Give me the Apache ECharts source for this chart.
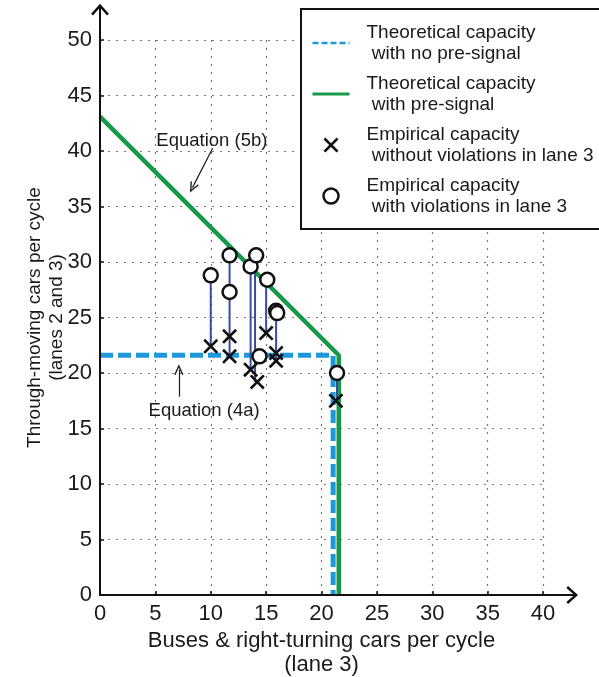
<!DOCTYPE html>
<html>
<head>
<meta charset="utf-8">
<script src="https://cdn.jsdelivr.net/npm/echarts@6/dist/echarts.min.js"></script>
<style>
  html, body { margin: 0; padding: 0; background: #fff; }
  #chart { width: 599px; height: 677px; }
</style>
</head>
<body>
<div id="chart"></div>
<script>
// theoretical capacity lines [buses & right-turning cars, through-moving cars]
const noSignalLine = [[0, 21.6], [21.05, 21.6], [21.05, 0]];
const preSignalLine = [[0, 43.1], [21.56, 21.6], [21.56, 0]];

// empirical capacity points
const noViolation = [[10, 22.4], [11.7, 23.3], [11.7, 21.5], [13.6, 20.3], [14.2, 19.2],
  [15.0, 23.6], [15.9, 21.8], [15.9, 21.1], [21.3, 17.5]];
const withViolation = [[10, 28.8], [11.7, 30.6], [11.7, 27.3], [13.6, 29.6], [14.1, 30.6],
  [14.4, 21.5], [15.1, 28.4], [15.9, 25.6], [16.0, 25.4], [21.4, 20.0]];
// [x, circle value, cross value]
const stems = [[10, 28.8, 22.4], [11.7, 30.6, 21.5], [13.6, 29.6, 20.3], [14.0, 30.6, 19.2],
  [15.0, 28.4, 23.6], [15.9, 25.6, 21.1], [21.4, 20.0, 17.5]];

const legendLabels = {
  noSignal: ['Theoretical capacity', ' with no pre-signal'],
  preSignal: ['Theoretical capacity', ' with pre-signal'],
  noViolation: ['Empirical capacity', ' without violations in lane 3'],
  withViolation: ['Empirical capacity', ' with violations in lane 3']
};
const notes = [
  { value: [10.1, 40.9], name: 'Equation (5b)' },
  { value: [9.4, 16.6], name: 'Equation (4a)' }
];

const font = 'Liberation Sans, Arial, sans-serif';
const ink = '#1a1a1a';
const blue = '#1e98dc';
const green = '#18994a';
const stemColor = '#3a4c9e';
const noFill = { color: 'rgba(0,0,0,0)', borderColor: 'rgba(0,0,0,0)', borderWidth: 0 };
const crossPath = 'path://M0,2.5 L2.5,0 L10,7.5 L17.5,0 L20,2.5 L12.5,10 L20,17.5 L17.5,20 L10,12.5 L2.5,20 L0,17.5 L7.5,10 Z';
const thinArrow = 'path://M0,9 L5,0 L10,9 L8.8,9.8 L5,3 L1.2,9.8 Z';

const chart = echarts.init(document.getElementById('chart'));

const axisCommon = {
  type: 'value',
  interval: 5,
  axisLine: { show: true, lineStyle: { color: '#111', width: 2 } },
  axisTick: { show: true, inside: true, length: 4, lineStyle: { color: '#111', width: 1.5 } },
  axisLabel: { color: ink, fontSize: 22, fontFamily: font, margin: 8 },
  splitLine: { show: true, lineStyle: { color: '#777', width: 1.2, type: [2, 6] } },
  nameLocation: 'middle',
  nameMoveOverlap: false
};

// axis lines with open arrow heads, drawn past the grid
function renderAxisArrow(params, api) {
  const a = api.coord([api.value(0), api.value(1)]);
  const tip = api.coord([api.value(2), api.value(3)]);
  const dx = tip[0] - a[0], dy = tip[1] - a[1];
  const len = Math.sqrt(dx * dx + dy * dy);
  const ux = dx / len, uy = dy / len;
  const back = 9, half = 8;
  const p1 = [tip[0] - ux * back - uy * half, tip[1] - uy * back + ux * half];
  const p2 = [tip[0] - ux * back + uy * half, tip[1] - uy * back - ux * half];
  return {
    type: 'group',
    children: [
      { type: 'line', shape: { x1: a[0], y1: a[1], x2: tip[0] - ux, y2: tip[1] - uy }, style: { stroke: '#111', lineWidth: 2 } },
      { type: 'polyline', shape: { points: [p1, tip, p2] }, style: { stroke: '#111', lineWidth: 2.4, fill: null } }
    ]
  };
}

chart.setOption({
  animation: false,
  backgroundColor: '#fff',
  grid: { left: 100, right: 56, top: 40, bottom: 82, outerBoundsMode: 'none', containLabel: false },
  xAxis: Object.assign({}, axisCommon, {
    min: 0, max: 40,
    name: 'Buses & right-turning cars per cycle\n(lane 3)',
    nameGap: 34,
    nameTextStyle: { color: ink, fontFamily: font, fontSize: 22, lineHeight: 24 }
  }),
  yAxis: Object.assign({}, axisCommon, {
    min: 0, max: 50,
    name: 'Through-moving cars per cycle\n(lanes 2 and 3)',
    nameGap: 32,
    nameTextStyle: { color: ink, fontFamily: font, fontSize: 19, lineHeight: 22 }
  }),
  legend: {
    orient: 'vertical',
    left: 301,
    top: 9,
    padding: [14, 30, 13, 10],
    itemGap: 11,
    itemWidth: 37,
    itemHeight: 15,
    borderColor: '#111',
    borderWidth: 2,
    backgroundColor: '#fff',
    selectedMode: false,
    data: [
      { name: 'noSignal', lineStyle: { width: 2.5, type: [6, 3] }, itemStyle: noFill },
      { name: 'preSignal', lineStyle: { width: 3 }, itemStyle: noFill },
      { name: 'noViolation', itemStyle: { color: '#111', opacity: 1 } },
      { name: 'withViolation', itemStyle: { color: '#fff', borderColor: '#111', borderWidth: 2.5, opacity: 1 } }
    ],
    formatter: name => legendLabels[name].map(s => '{t|' + s + '}').join('\n'),
    textStyle: {
      rich: { t: { fontSize: 19, lineHeight: 21, color: ink, fontFamily: font, padding: [0, 0, 0, 12] } }
    }
  },
  series: [
    {
      name: 'noSignal', type: 'line', data: noSignalLine, symbol: 'none', z: 2,
      lineStyle: { color: blue, width: 5, type: [13, 5] }, itemStyle: { color: blue }
    },
    {
      name: 'preSignal', type: 'line', data: preSignalLine, symbol: 'none', z: 3,
      lineStyle: { color: green, width: 4.5 }, itemStyle: { color: green }
    },
    {
      name: 'stems', type: 'custom', z: 4, silent: true,
      data: stems,
      encode: { x: 0, y: [1, 2] },
      renderItem: (params, api) => {
        const top = api.coord([api.value(0), api.value(1)]);
        const bot = api.coord([api.value(0), api.value(2)]);
        return {
          type: 'line',
          shape: { x1: top[0], y1: top[1], x2: bot[0], y2: bot[1] },
          style: { stroke: stemColor, lineWidth: 2 }
        };
      }
    },
    {
      name: 'noViolation', type: 'scatter', data: noViolation, z: 5,
      symbol: crossPath, symbolSize: 15, itemStyle: { color: '#111', opacity: 1 }
    },
    {
      name: 'withViolation', type: 'scatter', data: withViolation, z: 6,
      symbol: 'circle', symbolSize: 14,
      itemStyle: { color: '#fff', borderColor: '#111', borderWidth: 2.5, opacity: 1 }
    },
    {
      name: 'notes', type: 'scatter', data: notes, symbolSize: 0, silent: true, z: 7,
      itemStyle: { color: ink, opacity: 1 },
      label: {
        show: true, position: 'inside', formatter: '{b}', color: ink,
        fontSize: 18.5, fontFamily: font, textBorderWidth: 0
      },
      markLine: {
        silent: true,
        symbol: ['none', thinArrow],
        symbolSize: [9, 11],
        lineStyle: { color: ink, width: 1.2, type: 'solid', opacity: 1 },
        itemStyle: { color: ink },
        label: { show: false },
        data: [
          [{ coord: [10.17, 40.25] }, { coord: [8.35, 36.7] }],
          [{ coord: [7.12, 17.86] }, { coord: [7.12, 20.3] }]
        ]
      }
    },
    {
      name: 'axes', type: 'custom', clip: false, silent: true, z: 8,
      data: [[0, 0, 43.0, 0], [0, 0, 0, 53.1]],
      encode: { x: [0, 2], y: [1, 3] },
      renderItem: renderAxisArrow
    }
  ]
});
</script>
</body>
</html>
